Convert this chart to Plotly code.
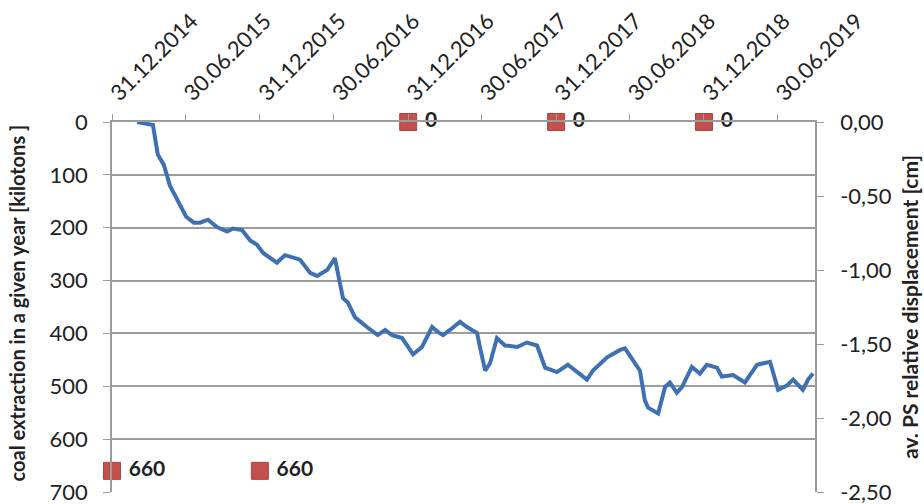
import plotly.graph_objects as go

# Annual coal extraction (primary axis, kilotons), plotted at year end
extraction_dates = ["2014-12-31", "2015-12-31", "2016-12-31", "2017-12-31", "2018-12-31"]
extraction_kt = [660, 660, 0, 0, 0]

# Average relative displacement of PS points (secondary axis, cm)
ps_dates = [
    "2015-03-03", "2015-04-11", "2015-04-23", "2015-05-08", "2015-05-23", "2015-06-12",
    "2015-07-02", "2015-07-21", "2015-08-05", "2015-08-25", "2015-09-16", "2015-10-11",
    "2015-10-26", "2015-11-17", "2015-12-07", "2015-12-24", "2016-01-08", "2016-02-11",
    "2016-03-02", "2016-04-08", "2016-05-03", "2016-05-20", "2016-06-14", "2016-07-03",
    "2016-07-23", "2016-08-04", "2016-08-22", "2016-09-20", "2016-10-17", "2016-11-04",
    "2016-11-21", "2016-12-16", "2017-01-12", "2017-02-03", "2017-02-28", "2017-03-15",
    "2017-03-27", "2017-04-13", "2017-05-08", "2017-05-25", "2017-06-19", "2017-06-26",
    "2017-07-09", "2017-07-21", "2017-08-07", "2017-08-27", "2017-09-26", "2017-10-20",
    "2017-11-14", "2017-12-04", "2018-01-02", "2018-01-29", "2018-02-23", "2018-03-17",
    "2018-04-01", "2018-05-06", "2018-06-07", "2018-06-19", "2018-07-09", "2018-07-26",
    "2018-08-07", "2018-08-15", "2018-09-09", "2018-09-26", "2018-10-08", "2018-10-25",
    "2018-11-07", "2018-12-01", "2018-12-21", "2019-01-07", "2019-02-01", "2019-02-13",
    "2019-03-13", "2019-04-11", "2019-05-11", "2019-06-12", "2019-07-02", "2019-07-24",
    "2019-08-08", "2019-09-01", "2019-09-14", "2019-09-26",
]
ps_disp_cm = [
    0.00, -0.02, -0.22, -0.29, -0.43, -0.54,
    -0.64, -0.68, -0.68, -0.66, -0.71, -0.74,
    -0.72, -0.73, -0.80, -0.83, -0.885, -0.95,
    -0.90, -0.93, -1.02, -1.04, -1.00, -0.92,
    -1.19, -1.22, -1.32, -1.385, -1.44, -1.405,
    -1.44, -1.46, -1.57, -1.52, -1.385, -1.42,
    -1.44, -1.405, -1.35, -1.385, -1.425, -1.52,
    -1.68, -1.63, -1.46, -1.51, -1.52, -1.49,
    -1.51, -1.66, -1.69, -1.64, -1.69, -1.74,
    -1.68, -1.59, -1.54, -1.53, -1.61, -1.68,
    -1.88, -1.93, -1.97, -1.79, -1.76, -1.83,
    -1.79, -1.655, -1.70, -1.64, -1.66, -1.72,
    -1.71, -1.76, -1.64, -1.62, -1.81, -1.78,
    -1.74, -1.81, -1.74, -1.70,
]

# Half-year ticks on the date axis
tick_dates = ["2014-12-31", "2015-06-30", "2015-12-31", "2016-06-30", "2016-12-31",
              "2017-06-30", "2017-12-31", "2018-06-30", "2018-12-31", "2019-06-30"]
tick_labels = ["31.12.2014", "30.06.2015", "31.12.2015", "30.06.2016", "31.12.2016",
               "30.06.2017", "31.12.2017", "30.06.2018", "31.12.2018", "30.06.2019"]

# Axis ticks
extraction_ticks = [0, 100, 200, 300, 400, 500, 600, 700]
disp_ticks = [0, -0.5, -1.0, -1.5, -2.0, -2.5]
disp_tick_labels = ["0,00", "-0,50", "-1,00", "-1,50", "-2,00", "-2,50"]

left_title = "coal extraction in a given year [kilotons ]"
right_title = "av. PS relative displacement [cm]"

FONT = "Lato"
GRID = "#9c9c9c"
TXT = "#222222"

fig = go.Figure()

fig.add_trace(go.Scatter(
    x=ps_dates, y=ps_disp_cm, yaxis="y2", mode="lines",
    line=dict(color="#3F70B2", width=4),
    name=right_title,
))

fig.add_trace(go.Scatter(
    x=extraction_dates, y=extraction_kt, mode="markers+text",
    marker=dict(symbol="square", size=17, color="#C4504D",
                line=dict(color="#B04340", width=1)),
    texttemplate=" %{y}", textposition="middle right",
    textfont=dict(family=FONT, size=21, color=TXT, weight="bold"),
    cliponaxis=False,
    name=left_title,
))

fig.update_layout(
    width=924, height=504,
    margin=dict(l=112, r=109, t=122, b=12, autoexpand=False),
    paper_bgcolor="white", plot_bgcolor="white",
    showlegend=False,
    separators=",.",
    font=dict(family=FONT, size=22, color=TXT),
    xaxis=dict(
        type="date", side="top", automargin=False,
        range=["2014-12-31", "2019-10-01"],
        tickmode="array", tickvals=tick_dates, ticktext=tick_labels,
        tickangle=-45, ticks="outside", ticklen=6, tickcolor=GRID,
        showgrid=False, showline=True, linecolor=GRID, linewidth=1.5,
        zeroline=False, ticklabeloverflow="allow",
        tickfont=dict(family=FONT, size=22, color=TXT),
    ),
    yaxis=dict(
        range=[700, 0], automargin=False,
        tickmode="array", tickvals=extraction_ticks,
        ticks="outside", ticklen=7, tickcolor=GRID,
        ticklabelstandoff=11, ticklabeloverflow="allow",
        showgrid=True, gridcolor=GRID, gridwidth=1.5,
        showline=True, linecolor=GRID, linewidth=1.5, zeroline=False,
        tickfont=dict(family=FONT, size=22, color=TXT),
    ),
    yaxis2=dict(
        overlaying="y", side="right", automargin=False,
        range=[-2.5, 0],
        tickmode="array", tickvals=disp_ticks, ticktext=disp_tick_labels,
        ticks="outside", ticklen=7, tickcolor=GRID,
        ticklabelstandoff=12, ticklabeloverflow="allow",
        showgrid=False, showline=True, linecolor=GRID, linewidth=1.5,
        zeroline=False,
        tickfont=dict(family=FONT, size=22, color=TXT),
    ),
    annotations=[
        dict(text=f"<b>{left_title}</b>", textangle=-90,
             xref="paper", yref="paper", x=-0.135, y=0.51,
             xanchor="center", yanchor="middle", showarrow=False,
             font=dict(family=FONT, size=20, color=TXT)),
        dict(text=f"<b>{right_title}</b>", textangle=-90,
             xref="paper", yref="paper", x=1.1337, y=0.50,
             xanchor="center", yanchor="middle", showarrow=False,
             font=dict(family=FONT, size=21, color=TXT)),
    ],
)

fig.write_html("out.html")
